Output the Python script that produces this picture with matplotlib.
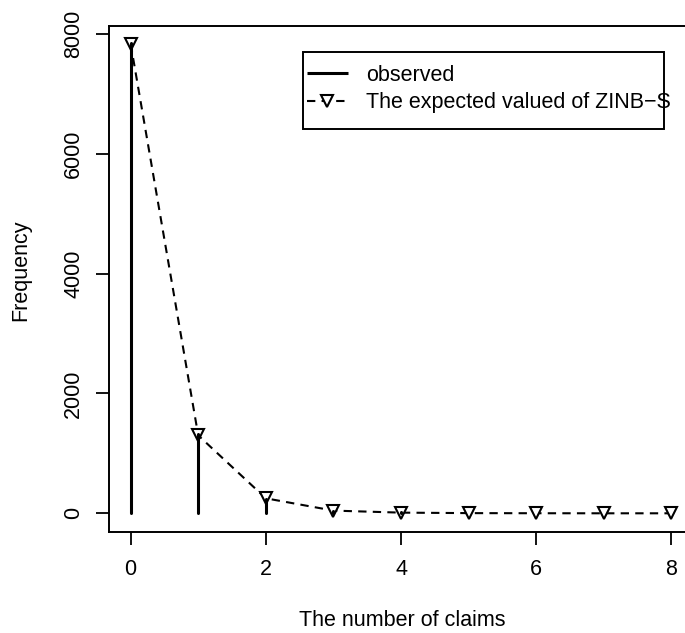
import matplotlib
matplotlib.use("Agg")
import matplotlib.pyplot as plt
from matplotlib.patches import Rectangle

plt.rcParams['font.family'] = ['Liberation Sans', 'DejaVu Sans']

# number of claims and frequencies
claims = [0, 1, 2, 3, 4, 5, 6, 7, 8]
observed = [7840, 1317, 239, 42, 14, 4, 4, 1, 0]
expected = [7835, 1300, 250, 45, 11, 3, 1, 0, 0]
ticks_x = [0, 2, 4, 6, 8]
ticks_y = [0, 2000, 4000, 6000, 8000]

fig = plt.figure(figsize=(6.85, 6.33), dpi=100)
# right edge of the box lies just outside the picture, as in the original
ax = fig.add_axes([109 / 685, 1 - 532 / 633, 584 / 685, 506 / 633])

ax.plot(claims, expected, color="black", linestyle=(0, (4, 3)), linewidth=1.5,
        marker="v", markersize=8.5, markerfacecolor="white", markeredgewidth=1.5,
        label="The expected valued of ZINB\u2212S", zorder=2)
ax.vlines(claims, 0, observed, colors="black", linewidth=2.2, capstyle="round",
          label="observed", zorder=3)

ax.set_xlim(-0.32, 8.32)
ax.set_ylim(-312, 8130)
ax.set_xticks(ticks_x)
ax.set_yticks(ticks_y)
ax.tick_params(labelsize=15.5, length=9.5, width=1.3, direction="out")
ax.tick_params(axis="x", pad=10)
ax.tick_params(axis="y", pad=8.5, labelrotation=90)
for lab in ax.get_yticklabels():
    lab.set_va("center")
for sp in ax.spines.values():
    sp.set_linewidth(1.4)

ax.set_xlabel("The number of claims", fontsize=15.5)
ax.set_ylabel("Frequency", fontsize=15.5)
ax.xaxis.set_label_coords(0.5026, -0.154)
ax.yaxis.set_label_coords(-0.1336, 0.518)

# legend text without frame, box drawn separately (text runs over it as in R)
h, l = ax.get_legend_handles_labels()
fig.legend(h[::-1], l[::-1], loc="upper left",
           bbox_to_anchor=(306.7 / 685, 1 - 65 / 633),
           frameon=False, fontsize=15.5, borderpad=0, borderaxespad=0,
           handlelength=1.9, handletextpad=0.85, labelspacing=0.3)
fig.add_artist(Rectangle((302.7 / 685, 1 - 129 / 633), (664 - 302.7) / 685,
                         (129 - 51.7) / 633, transform=fig.transFigure,
                         fill=False, edgecolor="black", linewidth=1.4))

fig.savefig("out.png", dpi=100)
